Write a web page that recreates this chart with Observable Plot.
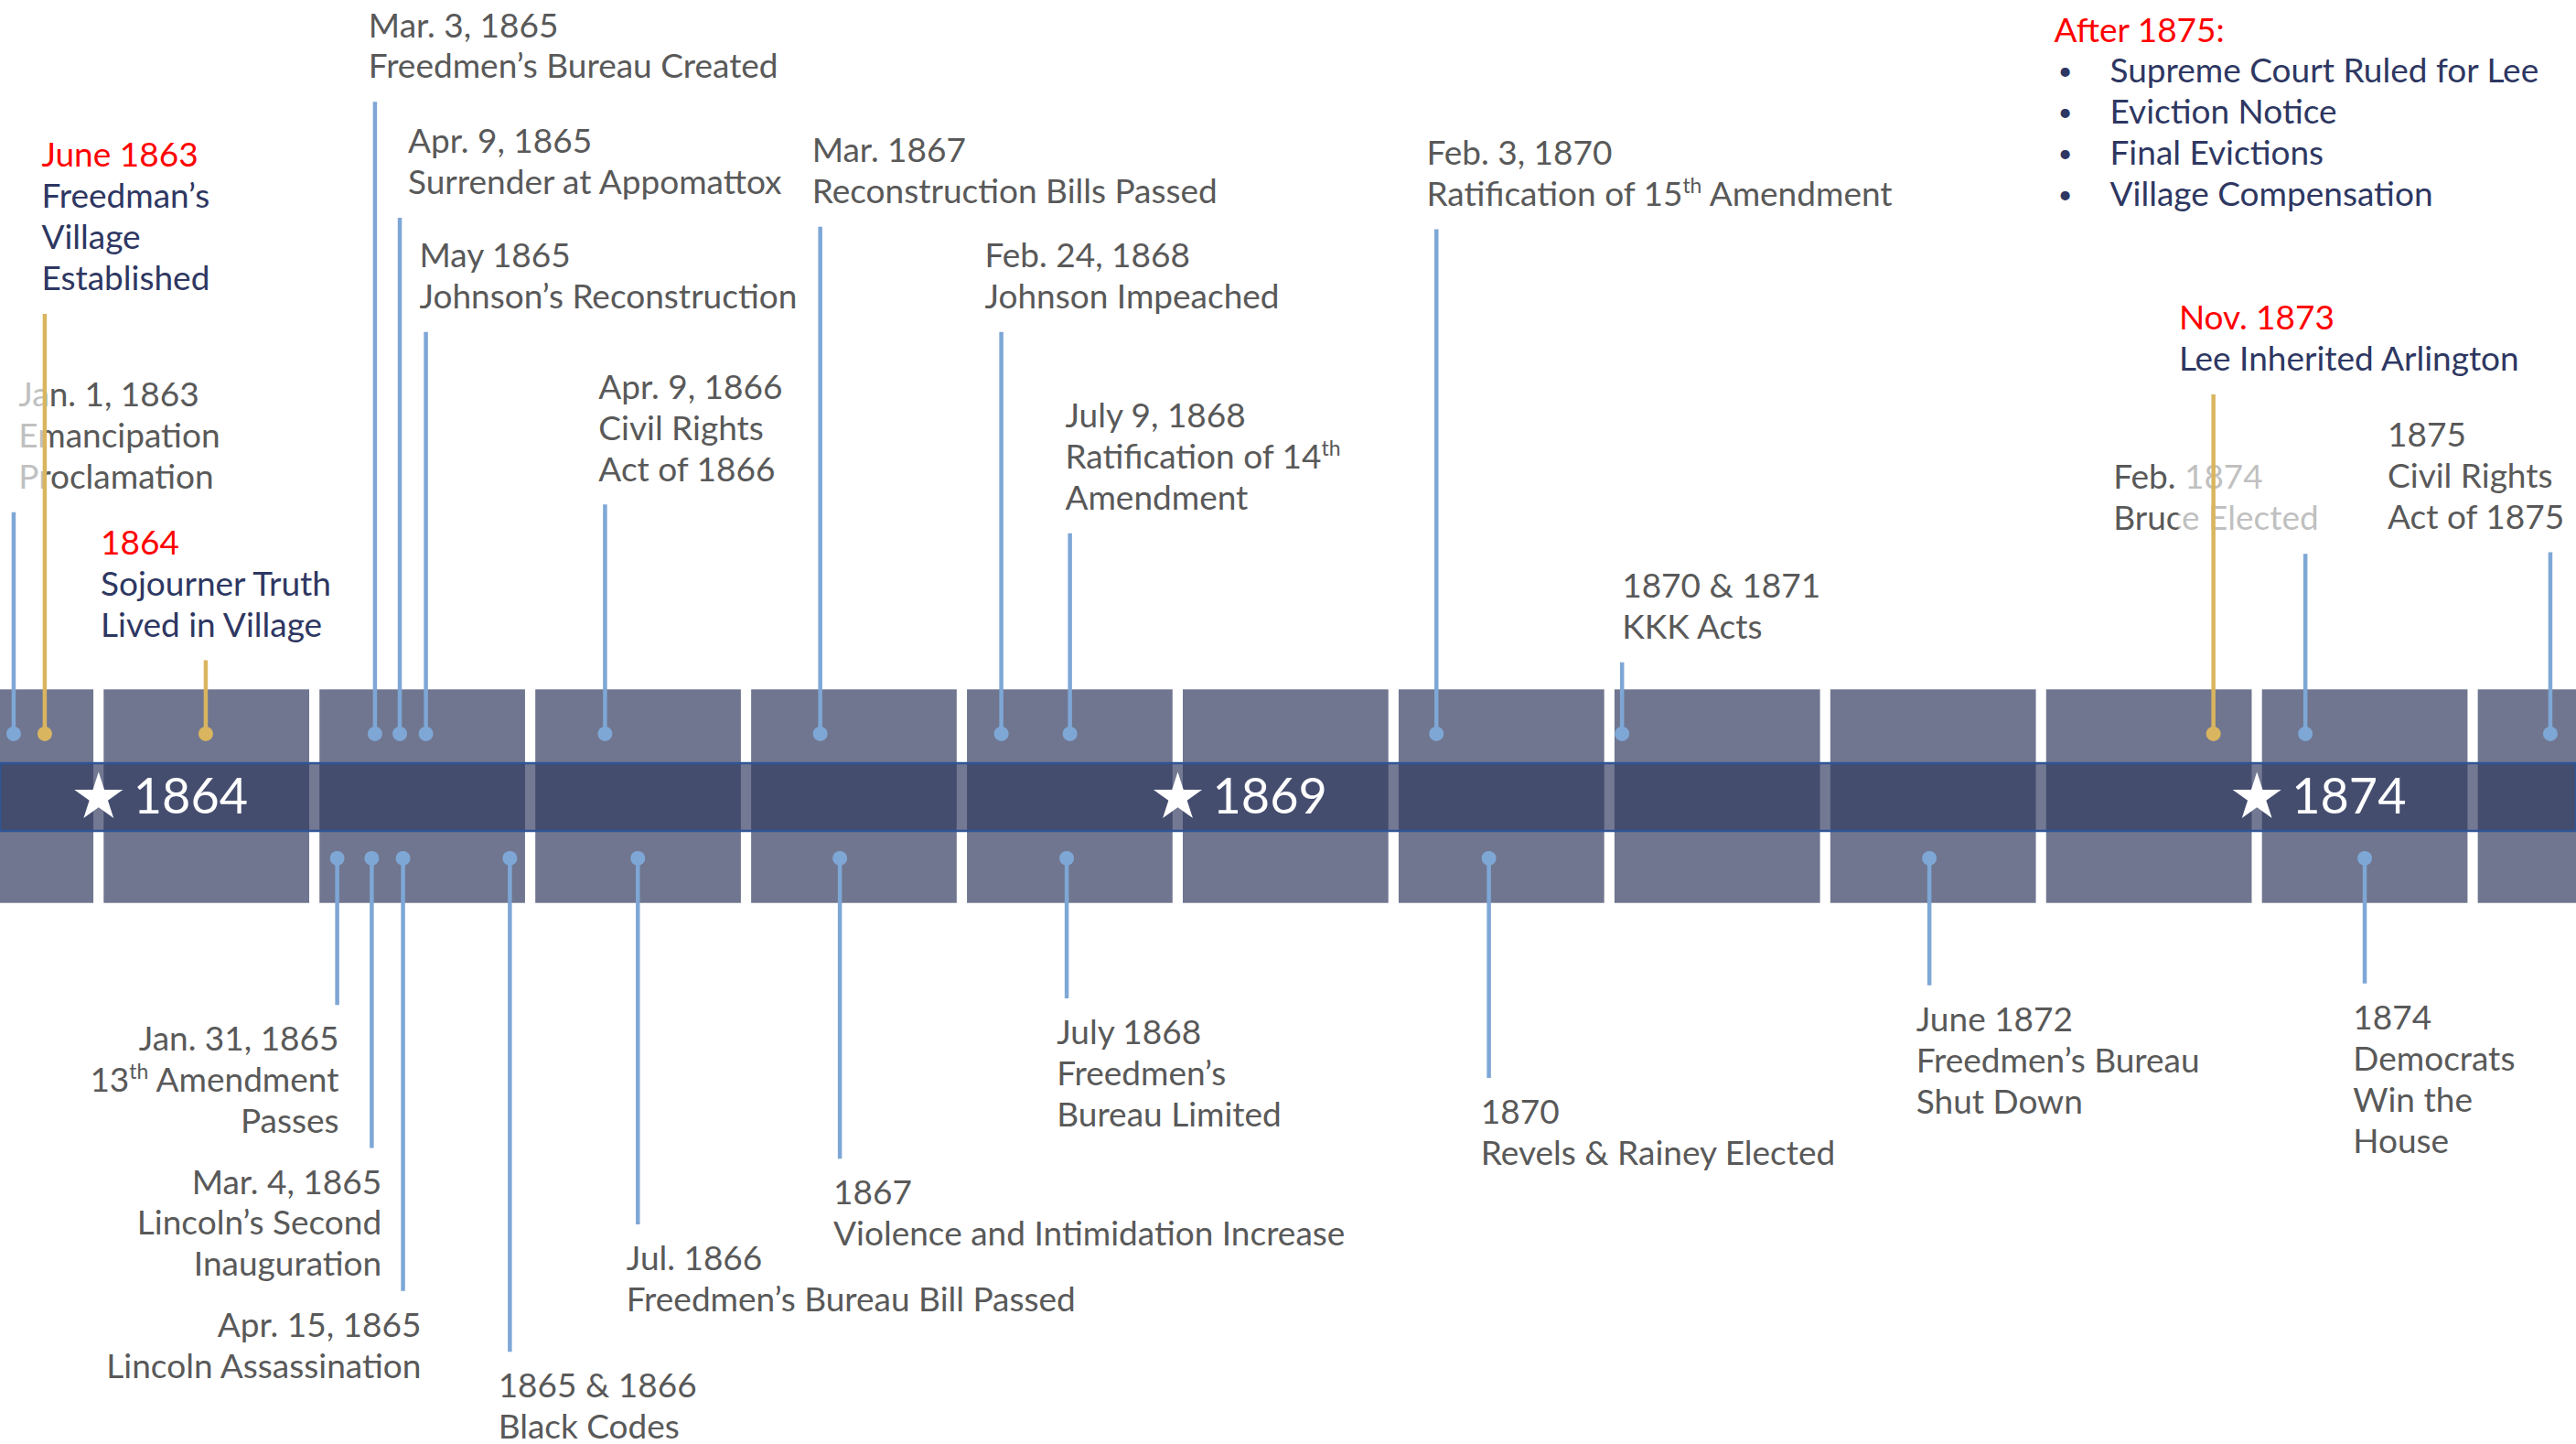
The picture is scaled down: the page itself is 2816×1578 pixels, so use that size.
<!DOCTYPE html>
<html><head><meta charset="utf-8">
<script src="https://cdn.jsdelivr.net/npm/d3@7"></script>
<script src="https://cdn.jsdelivr.net/npm/@observablehq/plot@0.6"></script>
<style>html,body{margin:0;padding:0;background:#fff;overflow:hidden}</style>
</head><body><div id="chart"></div>
<script>
// ---- data ----
const blockYears = d3.range(1863, 1876);
const markerYears = [1864, 1869, 1874];

const eventDates = [
  "Jan. 1, 1863", "June 1863", "1864", "Mar. 3, 1865", "Apr. 9, 1865", "May 1865",
  "Apr. 9, 1866", "Mar. 1867", "Feb. 24, 1868", "July 9, 1868", "Feb. 3, 1870",
  "1870 & 1871", "Nov. 1873", "Feb. 1874", "1875",
  "Jan. 31, 1865", "Mar. 4, 1865", "Apr. 15, 1865", "1865 & 1866", "Jul. 1866",
  "1867", "July 1868", "1870", "June 1872", "1874"
];
const eventTexts = [
  ["Emancipation", "Proclamation"], ["Freedman’s", "Village", "Established"],
  ["Sojourner Truth", "Lived in Village"], ["Freedmen’s Bureau Created"],
  ["Surrender at Appomattox"], ["Johnson’s Reconstruction"], ["Civil Rights", "Act of 1866"],
  ["Reconstruction Bills Passed"], ["Johnson Impeached"], ["Ratification of 14th", "Amendment"],
  ["Ratification of 15th Amendment"], ["KKK Acts"], ["Lee Inherited Arlington"],
  ["Bruce Elected"], ["Civil Rights", "Act of 1875"],
  ["13th Amendment", "Passes"], ["Lincoln’s Second", "Inauguration"], ["Lincoln Assassination"],
  ["Black Codes"], ["Freedmen’s Bureau Bill Passed"], ["Violence and Intimidation Increase"],
  ["Freedmen’s", "Bureau Limited"], ["Revels & Rainey Elected"], ["Freedmen’s Bureau", "Shut Down"],
  ["Democrats", "Win the", "House"]
];
// position on the time axis (fractional year) where each pin sits
const eventPos = [
  1863.581, 1863.725, 1864.471, 1865.255, 1865.370, 1865.491, 1866.321, 1867.318,
  1868.157, 1868.475, 1870.173, 1871.033, 1873.773, 1874.199, 1875.334,
  1865.080, 1865.240, 1865.385, 1865.880, 1866.473, 1867.409, 1868.460, 1870.416,
  1872.457, 1874.474
];
// stem length (label level above (+) / below (-) the timeline)
const eventLevels = [
  6.93, 11.76, 3.33, 16.92, 14.1, 11.32, 7.12, 13.88, 11.32, 6.42, 13.82, 3.28, 9.8, 5.92, 5.96,
  -5.06, -8.54, -12.02, -13.5, -10.4, -8.8, -4.9, -6.84, -4.58, -4.54
];
// where each label's text is anchored on the time axis
const eventLabelAt = [
  1863.604, 1863.710, 1863.984, 1865.225, 1865.408, 1865.461, 1866.291, 1867.280,
  1868.080, 1868.453, 1870.127, 1871.033, 1873.613, 1873.309, 1874.580,
  1865.088, 1865.286, 1865.469, 1865.826, 1866.420, 1867.379, 1868.414, 1870.379,
  1872.396, 1874.420
];
const eventKinds = [
  "nation", "village", "village", "nation", "nation", "nation", "nation", "nation",
  "nation", "nation", "nation", "nation", "village", "nation", "nation",
  "nation", "nation", "nation", "nation", "nation", "nation", "nation", "nation",
  "nation", "nation"
];
const eventAlign = [
  "start", "start", "start", "start", "start", "start", "start", "start",
  "start", "start", "start", "start", "start", "start", "start",
  "end", "end", "end", "start", "start", "start", "start", "start", "start", "start"
];
const afterTitle = "After 1875:";
const afterItems = ["Supreme Court Ruled for Lee", "Eviction Notice", "Final Evictions", "Village Compensation"];
const afterAt = 1873.035;
const afterLevel = 18.66;

// ---- styles ----
const GRAY = "#595959", NAVY = "#2e3762", RED = "#ff0000";
const BLUE = "#7ea7d6", GOLD = "#d9b55f";
const BLOCK = "#70768f";
const FONT = "Lato";
const FS = 37;
const xDomain = [1863.5198, 1875.455];
const yDomain = [-15.746, 19.399];

// ---- build tables ----
const events = eventDates.map((d, i) => {
  const top = eventLevels[i] > 0;
  const village = eventKinds[i] === "village";
  return {
    date: d, lines: eventTexts[i], pos: eventPos[i], level: eventLevels[i],
    labelAt: eventLabelAt[i], align: eventAlign[i], top,
    dotY: top ? 1.55 : -1.48,
    stem: village ? GOLD : BLUE,
    dateColor: village ? RED : GRAY,
    textColor: village ? NAVY : GRAY
  };
});
const labelLines = [];
for (const e of events) {
  const all = [e.date, ...e.lines];
  const n = all.length;
  all.forEach((t, i) => {
    const y = e.top ? e.level + 0.85 + (n - 1 - i) : e.level - 0.84 - i;
    labelLines.push({t, x: e.labelAt, y, c: i === 0 ? e.dateColor : e.textColor, align: e.align});
  });
}
const afterRows = afterItems.map((t, i) => ({t, x: afterAt, y: afterLevel - 1 - i}));

// faded overlaps (semi-transparent label boxes of the village notes)
const e1 = events[0], e2 = events[1], e13 = events[12], e14 = events[13];
const fades = [
  {x1: xDomain[0], x2: e2.pos, y1: e1.level + 0.85 - 0.5, y2: e1.level + 0.85 + 2 + 0.55},
  {x1: e13.labelAt, x2: e13.labelAt + 0.72, y1: e14.level + 0.85 - 0.5, y2: e14.level + 0.85 + 1 + 0.55}
];

const chart = Plot.plot({
  width: 2816, height: 1578, margin: 0,
  x: {domain: xDomain, axis: null},
  y: {domain: yDomain, axis: null},
  color: {type: "identity"},
  style: {fontFamily: FONT, background: "white"},
  marks: [
    Plot.rect(blockYears, {x1: d => d, x2: d => d + 0.9524, y1: -2.577, y2: 2.621, fill: BLOCK}),
    Plot.rect([0], {x1: xDomain[0], x2: xDomain[1], y1: -0.824, y2: 0.824,
      fill: "#313960", fillOpacity: 0.68, stroke: "#2f5597", strokeWidth: 2.5}),
    Plot.text(labelLines.filter(d => d.align === "start"), {x: "x", y: "y", text: "t", fill: "c",
      textAnchor: "start", lineAnchor: "middle", fontSize: FS, fontFamily: FONT}),
    Plot.text(labelLines.filter(d => d.align === "end"), {x: "x", y: "y", text: "t", fill: "c",
      textAnchor: "end", lineAnchor: "middle", fontSize: FS, fontFamily: FONT}),
    Plot.text([afterTitle], {x: afterAt, y: afterLevel, text: d => d, fill: RED,
      textAnchor: "start", lineAnchor: "middle", fontSize: FS, fontFamily: FONT}),
    Plot.text(afterRows, {x: "x", y: "y", text: () => "•", fill: NAVY, dx: 12,
      textAnchor: "middle", lineAnchor: "middle", fontSize: 27, fontFamily: FONT}),
    Plot.text(afterRows, {x: "x", y: "y", text: "t", fill: NAVY, dx: 61,
      textAnchor: "start", lineAnchor: "middle", fontSize: FS, fontFamily: FONT}),
    Plot.rect(fades, {x1: "x1", x2: "x2", y1: "y1", y2: "y2", fill: "white", fillOpacity: 0.62}),
    Plot.ruleX(events, {x: "pos", y1: "dotY", y2: "level", stroke: "stem", strokeWidth: 4.5}),
    Plot.dot(events, {x: "pos", y: "dotY", r: 8, fill: "stem"}),
    Plot.dot(markerYears, {x: d => d, y: 0, symbol: "star", r: 16.7, fill: "white", dx: -6}),
    Plot.text(markerYears, {x: d => d, y: 0, text: d => String(d), fill: "white", dx: 32,
      textAnchor: "start", lineAnchor: "middle", fontSize: 54, fontFamily: FONT})
  ]
});

// superscript ordinals (13th, 14th, 15th)
for (const t of chart.querySelectorAll("text")) {
  if (t.querySelector("tspan")) continue;
  const m = (t.textContent || "").match(/^(.*?\d)(th)(.*)$/);
  if (!m) continue;
  t.textContent = "";
  t.append(m[1]);
  const sup = document.createElementNS("http://www.w3.org/2000/svg", "tspan");
  sup.setAttribute("baseline-shift", "super");
  sup.setAttribute("font-size", "62%");
  sup.textContent = m[2];
  t.append(sup);
  if (m[3]) t.append(m[3]);
}
document.getElementById("chart").append(chart);
</script>
</body></html>
